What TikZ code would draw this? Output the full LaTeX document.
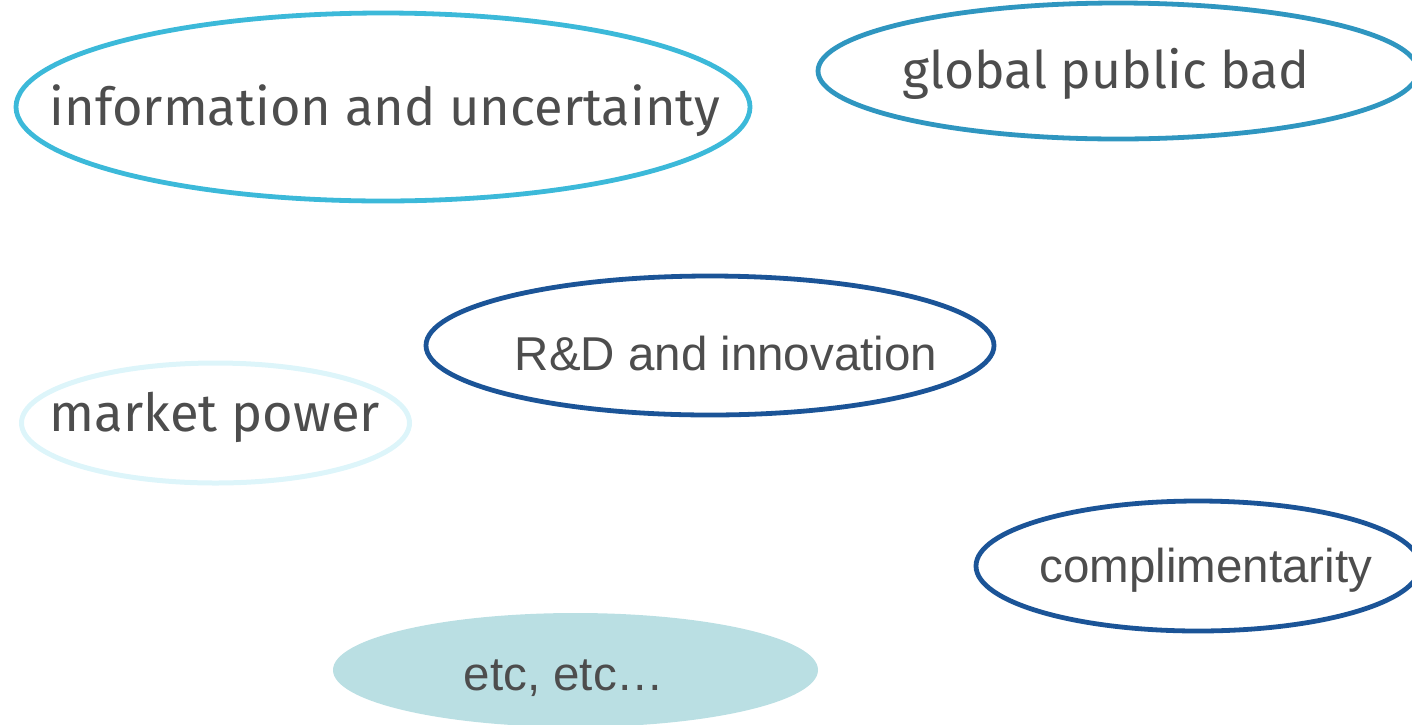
\documentclass[tikz,border=0pt]{standalone}
\usepackage{fontspec}
\setmainfont{Liberation Sans}
\newfontfamily\humanist{Fira Sans}
\usetikzlibrary{shapes.geometric}
\definecolor{skyline}{HTML}{3CB9D9}
\definecolor{seaedge}{HTML}{2F96C0}
\definecolor{deepblue}{HTML}{1B5497}
\definecolor{paleline}{HTML}{DDF5FA}
\definecolor{tealfill}{HTML}{BADFE3}
\definecolor{labelgrey}{HTML}{4D4D4D}
\begin{document}
\begin{tikzpicture}[x=1pt,y=-1pt,
  ring/.style={line width=4.8pt},
  arial/.style={anchor=base,inner sep=0pt,text=labelgrey,font=\fontsize{47.5}{50}\selectfont},
  soft/.style={anchor=base,inner sep=0pt,text=labelgrey}]
\useasboundingbox (0,0) rectangle (1412,724);
\clip (0,0) rectangle (1412,724);
% outlined topic ellipses
\draw[ring,draw=skyline] (383,107) ellipse [x radius=367, y radius=94];
\draw[ring,draw=seaedge] (1118,71) ellipse [x radius=300, y radius=68];
\draw[ring,draw=deepblue] (710,345.5) ellipse [x radius=284, y radius=69.5];
\draw[line width=5pt,draw=paleline] (215.5,423) ellipse [x radius=194, y radius=60];
\draw[ring,draw=deepblue] (1198,566) ellipse [x radius=222, y radius=65];
\fill[tealfill] (575.5,670) ellipse [x radius=242.5, y radius=57];
% labels
\node[soft] (info) at (385,125) {\resizebox{670pt}{!}{\humanist information and uncertainty}};
\node[soft] (bad) at (1106,88) {\resizebox{407pt}{!}{\humanist global public bad}};
\node[soft] (power) at (215,431) {\resizebox{330pt}{!}{\humanist market power}};
\node[arial] (rd) at (726,370) {R\&D and innovation};
\node[arial] (compl) at (1206,582) {complimentarity};
\node[arial] (etc) at (564,690) {etc, etc…};
\end{tikzpicture}
\end{document}
